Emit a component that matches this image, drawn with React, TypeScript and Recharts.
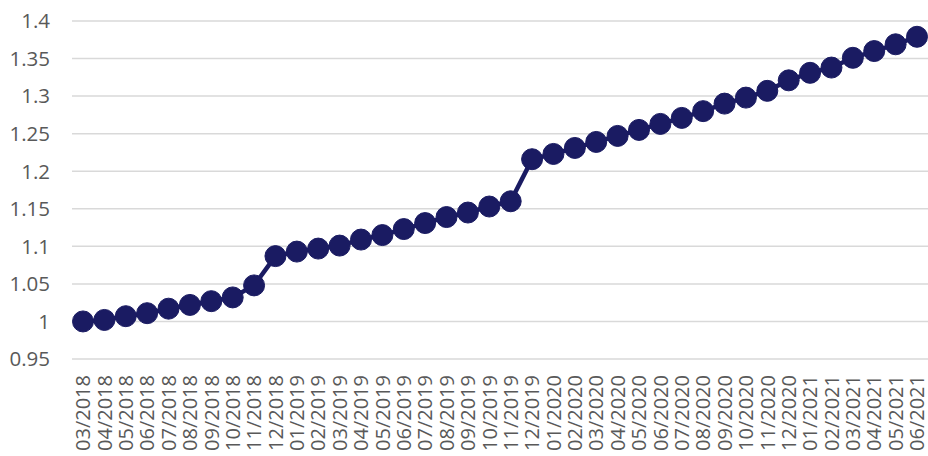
import React from "react";
import { CartesianGrid, Line, LineChart, XAxis, YAxis } from "recharts";

const months = [
  "03/2018", "04/2018", "05/2018", "06/2018", "07/2018", "08/2018", "09/2018", "10/2018",
  "11/2018", "12/2018", "01/2019", "02/2019", "03/2019", "04/2019", "05/2019", "06/2019",
  "07/2019", "08/2019", "09/2019", "10/2019", "11/2019", "12/2019", "01/2020", "02/2020",
  "03/2020", "04/2020", "05/2020", "06/2020", "07/2020", "08/2020", "09/2020", "10/2020",
  "11/2020", "12/2020", "01/2021", "02/2021", "03/2021", "04/2021", "05/2021", "06/2021",
];

const index = [
  1.0, 1.002, 1.007, 1.011, 1.017, 1.022, 1.027, 1.032,
  1.048, 1.087, 1.093, 1.097, 1.101, 1.109, 1.115, 1.123,
  1.131, 1.139, 1.145, 1.153, 1.16, 1.216, 1.223, 1.231,
  1.239, 1.247, 1.255, 1.263, 1.271, 1.28, 1.29, 1.298,
  1.307, 1.321, 1.331, 1.338, 1.351, 1.36, 1.369, 1.379,
];

const yTicks = [0.95, 1, 1.05, 1.1, 1.15, 1.2, 1.25, 1.3, 1.35, 1.4];

const data = months.map((month, i) => ({ month, value: index[i] }));

const FONT = "'Open Sans', sans-serif";
const LABEL = "#595959";
const NAVY = "#1a1b62";

function MonthTick({ x, y, payload }: any) {
  return (
    <g transform={`translate(${x},${y})`}>
      <text
        transform="rotate(-90)"
        x={-8}
        y={0}
        dy="0.36em"
        textAnchor="end"
        fill={LABEL}
        fontSize={20}
        fontFamily={FONT}
      >
        {payload.value}
      </text>
    </g>
  );
}

function ValueTick({ y, payload }: any) {
  return (
    <text x={50} y={y} dy="0.36em" textAnchor="end" fill={LABEL} fontSize={20.5} fontFamily={FONT}>
      {payload.value}
    </text>
  );
}

export default function App() {
  return (
    <div style={{ position: "absolute", left: 0, top: 0, background: "#fff" }}>
      <LineChart width={928} height={456} data={data} margin={{ top: 21, right: 0, bottom: 0, left: 0 }}>
        <CartesianGrid vertical={false} stroke="#d9d9d9" strokeWidth={1.5} />
        <XAxis
          dataKey="month"
          interval={0}
          height={97}
          padding={{ left: 11, right: 11 }}
          axisLine={false}
          tickLine={false}
          tick={<MonthTick />}
        />
        <YAxis
          domain={[0.95, 1.4]}
          ticks={yTicks}
          width={72}
          axisLine={false}
          tickLine={false}
          tick={<ValueTick />}
        />
        <Line
          type="linear"
          dataKey="value"
          stroke={NAVY}
          strokeWidth={4.5}
          dot={{ r: 10.5, fill: NAVY, stroke: NAVY, strokeWidth: 1 }}
          isAnimationActive={false}
        />
      </LineChart>
    </div>
  );
}
